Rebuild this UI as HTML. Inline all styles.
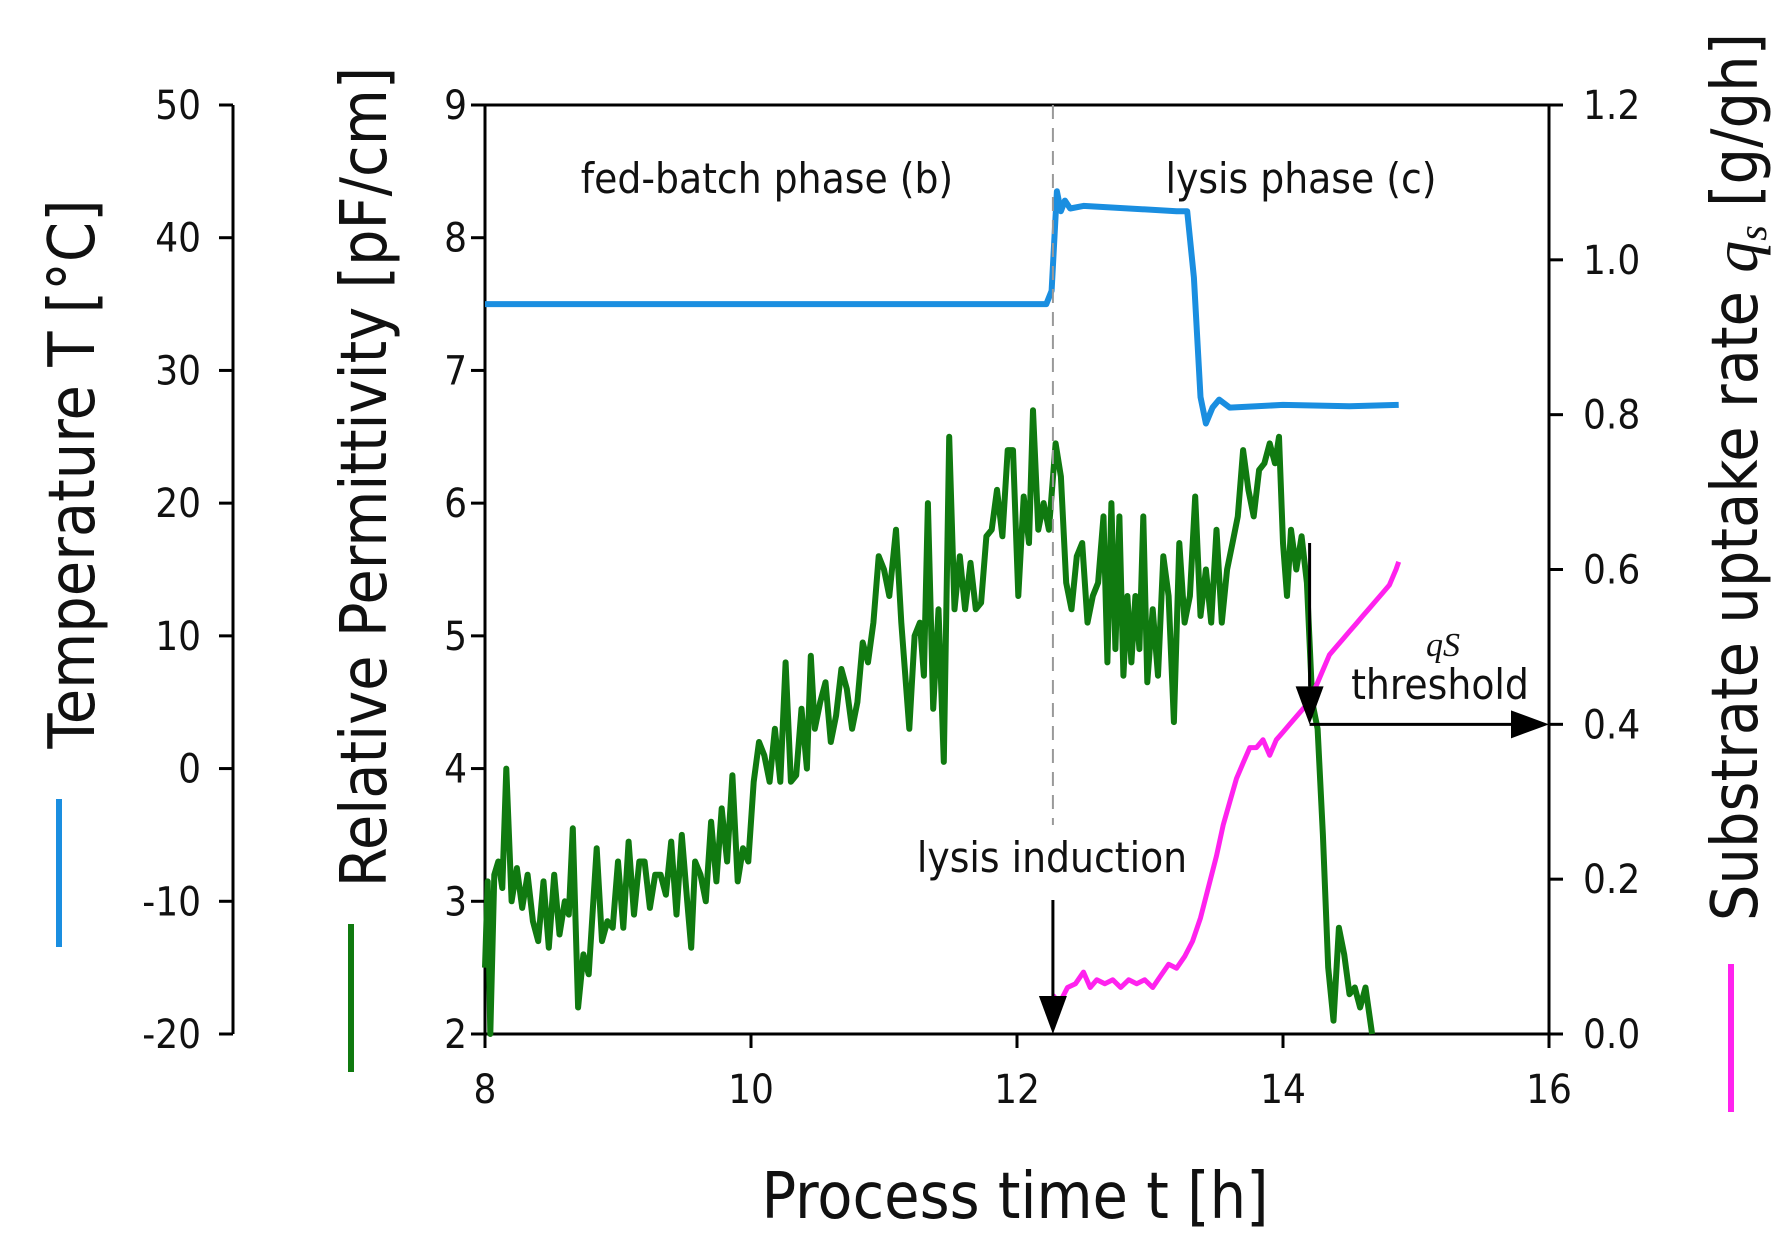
<!DOCTYPE html>
<html><head><meta charset="utf-8"><style>
html,body{margin:0;padding:0;background:#fff;}
svg{display:block;font-family:"DejaVu Sans Condensed","DejaVu Sans","Liberation Sans",sans-serif;font-stretch:condensed;}
</style></head><body>
<svg id="chart" width="1789" height="1254" viewBox="0 0 1789 1254" xmlns="http://www.w3.org/2000/svg">
<g id="axes"></g>
<g id="series"></g>
<g id="annot"></g>
</svg>
<script>
const xTicks = [8, 10, 12, 14, 16];
const permTicks = [2, 3, 4, 5, 6, 7, 8, 9];
const tempTicks = [-20, -10, 0, 10, 20, 30, 40, 50];
const qsTicks = [0.0, 0.2, 0.4, 0.6, 0.8, 1.0, 1.2];

const tempTime = [8, 12.22, 12.26, 12.3, 12.33, 12.36, 12.4, 12.5, 13.2, 13.28, 13.33, 13.38, 13.42, 13.47, 13.52, 13.6, 14.0, 14.5, 14.87];
const tempVals = [35, 35, 36, 43.5, 42, 42.8, 42.2, 42.4, 42, 42, 37, 28, 26, 27.2, 27.8, 27.2, 27.4, 27.3, 27.4];

const permTime = [8.00,8.02,8.04,8.07,8.10,8.13,8.16,8.20,8.24,8.28,8.32,8.36,8.40,8.44,8.48,8.52,8.56,8.60,8.63,8.66,8.70,
8.74,8.78,8.84,8.88,8.92,8.96,9.00,9.04,9.08,9.12,9.16,9.20,9.24,9.28,9.32,9.36,9.40,9.44,9.48,9.52,9.55,9.58,9.62,9.66,9.70,9.74,9.78,9.82,9.86,9.90,9.94,9.98,
10.02,10.06,10.10,10.14,10.18,10.22,10.26,10.30,10.34,10.38,10.42,10.45,10.48,10.52,10.56,10.60,10.64,10.68,10.72,10.76,10.80,10.84,10.88,10.92,10.96,11.00,11.04,11.09,11.13,11.19,11.23,11.27,11.30,11.33,11.37,11.41,11.45,11.49,11.53,11.57,11.61,11.65,11.69,11.73,11.77,11.81,11.85,11.89,11.93,11.97,12.01,12.05,12.09,12.12,12.16,12.20,12.24,12.29,12.33,12.37,12.41,12.45,12.49,12.53,12.57,12.61,12.65,12.68,12.71,12.74,12.77,12.80,12.83,12.86,12.89,12.92,12.95,12.98,13.02,13.06,13.10,13.14,13.18,13.22,13.26,13.30,13.34,13.38,13.42,13.46,13.50,13.54,13.58,13.62,13.66,13.70,13.74,13.78,13.82,13.86,13.90,13.94,13.97,14.00,14.03,14.06,14.10,14.14,14.18,14.22,14.26,14.30,14.34,14.38,14.42,14.46,14.50,14.54,14.58,14.62,14.67];
const permVals = [2.5,3.15,2.0,3.2,3.3,3.1,4.0,3.0,3.25,2.95,3.2,2.85,2.7,3.15,2.65,3.2,2.75,3.0,2.9,3.55,2.2,
2.6,2.45,3.4,2.7,2.85,2.8,3.3,2.8,3.45,2.9,3.3,3.3,2.95,3.2,3.2,3.05,3.45,2.9,3.5,3.0,2.65,3.3,3.2,3.0,3.6,3.15,3.7,3.3,3.95,3.15,3.4,3.3,
3.9,4.2,4.1,3.9,4.3,3.9,4.8,3.9,3.95,4.45,4.0,4.85,4.3,4.5,4.65,4.2,4.4,4.75,4.6,4.3,4.5,4.95,4.8,5.1,5.6,5.5,5.3,5.8,5.1,4.3,5.0,5.1,4.7,6.0,4.45,5.2,4.05,6.5,5.2,5.6,5.2,5.55,5.2,5.25,5.75,5.8,6.1,5.75,6.4,6.4,5.3,6.05,5.7,6.7,5.8,6.0,5.8,6.45,6.2,5.4,5.2,5.6,5.7,5.1,5.3,5.4,5.9,4.8,6.0,4.9,5.9,4.7,5.3,4.8,5.3,4.9,5.9,4.65,5.2,4.7,5.6,5.3,4.35,5.7,5.1,5.3,6.05,5.15,5.5,5.1,5.8,5.1,5.5,5.7,5.9,6.4,6.1,5.9,6.25,6.3,6.45,6.3,6.5,5.7,5.3,5.8,5.5,5.75,5.4,4.5,4.3,3.5,2.5,2.1,2.8,2.6,2.3,2.35,2.2,2.35,2.0];

const qsTime = [12.27,12.32,12.38,12.44,12.5,12.55,12.6,12.66,12.72,12.78,12.84,12.9,12.96,13.02,13.08,13.14,13.2,13.26,13.32,13.38,13.44,13.5,13.55,13.6,13.65,13.7,13.75,13.8,13.85,13.9,13.95,14.0,14.05,14.1,14.15,14.2,14.25,14.3,14.35,14.4,14.45,14.5,14.55,14.6,14.65,14.7,14.75,14.8,14.85,14.87];
const qsVals = [0.05,0.04,0.06,0.065,0.08,0.06,0.07,0.065,0.07,0.06,0.07,0.065,0.07,0.06,0.075,0.09,0.085,0.1,0.12,0.15,0.19,0.23,0.27,0.3,0.33,0.35,0.37,0.37,0.38,0.36,0.38,0.39,0.4,0.41,0.42,0.43,0.45,0.47,0.49,0.5,0.51,0.52,0.53,0.54,0.55,0.56,0.57,0.58,0.6,0.61];

const L=485, R=1549, T=105, B=1034;
const xS = t => L + (t-8)/(16-8)*(R-L);
const pS = p => B - (p-2)/(9-2)*(B-T);
const tS = v => B - (v+20)/70*(B-T);
const qS = v => B - v/1.2*(B-T);
const NS="http://www.w3.org/2000/svg";
function mk(parent, tag, attrs, text){
  const e=document.createElementNS(NS,tag);
  for(const k in attrs) e.setAttribute(k,attrs[k]);
  if(text!==undefined) e.textContent=text;
  parent.appendChild(e); return e;
}
const ax=document.getElementById('axes'), se=document.getElementById('series'), an=document.getElementById('annot');
const FS=40;
let e;
e=mk(ax,'rect',{x:L,y:T,width:R-L,height:B-T,fill:'none',stroke:'#000','stroke-width':3});


xTicks.forEach(v=>{
  e=mk(ax,'line',{x1:xS(v),x2:xS(v),y1:B,y2:B+14,stroke:'#000','stroke-width':3});
  
  
  e=mk(ax,'text',{x:xS(v),y:B+69,'font-size':FS,'text-anchor':'middle',fill:'#111'},String(v));
  
  
});
permTicks.forEach(v=>{
  e=mk(ax,'line',{x1:L-14,x2:L,y1:pS(v),y2:pS(v),stroke:'#000','stroke-width':3});
  
  
  e=mk(ax,'text',{x:L-18,y:pS(v)+14,'font-size':FS,'text-anchor':'end',fill:'#111'},String(v));
  
  
});
const TX=233;
e=mk(ax,'line',{x1:TX,x2:TX,y1:T,y2:B,stroke:'#000','stroke-width':3});


tempTicks.forEach(v=>{
  e=mk(ax,'line',{x1:TX-14,x2:TX,y1:tS(v),y2:tS(v),stroke:'#000','stroke-width':3});
  
  
  e=mk(ax,'text',{x:TX-32,y:tS(v)+14,'font-size':FS,'text-anchor':'end',fill:'#111'},String(v));
  
  
});
qsTicks.forEach(v=>{
  e=mk(ax,'line',{x1:R,x2:R+14,y1:qS(v),y2:qS(v),stroke:'#000','stroke-width':3});
  
  
  e=mk(ax,'text',{x:R+34,y:qS(v)+14,'font-size':FS,'text-anchor':'start',fill:'#111'},v.toFixed(1));
  
  
});
const TF=64;
e=mk(ax,'text',{x:1015,y:1218,'font-size':TF,'text-anchor':'middle',fill:'#111'},'Process time t [h]');


e=mk(ax,'text',{x:0,y:0,'font-size':TF,'text-anchor':'middle',fill:'#111',transform:'translate(94,474) rotate(-90)'},'Temperature T [°C]');


e=mk(ax,'text',{x:0,y:0,'font-size':TF,'text-anchor':'middle',fill:'#111',transform:'translate(386,477) rotate(-90)'},'Relative Permittivity [pF/cm]');


const qt=mk(ax,'text',{x:0,y:0,'font-size':TF,'text-anchor':'middle',fill:'#111',transform:'translate(1757,477) rotate(-90)'});


mk(qt,'tspan',{},'Substrate uptake rate ');
mk(qt,'tspan',{'font-family':'Liberation Serif, serif','font-style':'italic'},'q');
mk(qt,'tspan',{'font-family':'Liberation Serif, serif','font-style':'italic','font-size':40,dy:9},'s');
mk(qt,'tspan',{dy:-9},' [g/gh]');
e=mk(ax,'line',{x1:59,x2:59,y1:799,y2:947,stroke:'#1a8ee0','stroke-width':6});


e=mk(ax,'line',{x1:351,x2:351,y1:924,y2:1072,stroke:'#107a10','stroke-width':6});


e=mk(ax,'line',{x1:1731,x2:1731,y1:964,y2:1112,stroke:'#ff22ee','stroke-width':6});


e=mk(an,'line',{x1:xS(12.27),x2:xS(12.27),y1:T,y2:825,stroke:'#999','stroke-width':2,'stroke-dasharray':'14 9'});


function path(ts,vs,sc){return ts.map((t,i)=>(i?'L':'M')+xS(t).toFixed(1)+','+sc(vs[i]).toFixed(1)).join(' ');}
e=mk(se,'path',{d:path(permTime,permVals,pS),fill:'none',stroke:'#107a10','stroke-width':6,'stroke-linejoin':'round'});


e=mk(se,'path',{d:path(tempTime,tempVals,tS),fill:'none',stroke:'#1a8ee0','stroke-width':6,'stroke-linejoin':'round'});


e=mk(se,'path',{d:path(qsTime,qsVals,qS),fill:'none',stroke:'#ff22ee','stroke-width':5,'stroke-linejoin':'round'});


function arrow(x1,y1,x2,y2,name){
  const g=mk(an,'g',{});
  
  
  const dx=x2-x1, dy=y2-y1, len=Math.hypot(dx,dy), ux=dx/len, uy=dy/len, h=38, w=14;
  mk(g,'line',{x1:x1,y1:y1,x2:x2-ux*h,y2:y2-uy*h,stroke:'#000','stroke-width':3});
  const bx=x2-ux*h, by=y2-uy*h;
  mk(g,'polygon',{points:`${x2},${y2} ${bx-uy*w},${by+ux*w} ${bx+uy*w},${by-ux*w}`,fill:'#000'});
}
arrow(xS(12.27),900,xS(12.27),B,'induction-arrow');
arrow(xS(14.2),pS(5.7),xS(14.2),qS(0.4),'threshold-down-arrow');
arrow(xS(14.2),qS(0.4),R,qS(0.4),'threshold-right-arrow');
const AF=42;
e=mk(an,'text',{x:767,y:193,'font-size':AF,'text-anchor':'middle',fill:'#111'},'fed-batch phase (b)');


e=mk(an,'text',{x:1301,y:193,'font-size':AF,'text-anchor':'middle',fill:'#111'},'lysis phase (c)');


e=mk(an,'text',{x:1052,y:872,'font-size':AF,'text-anchor':'middle',fill:'#111'},'lysis induction');


e=mk(an,'text',{x:1443,y:656,'font-size':34,'text-anchor':'middle',fill:'#111','font-family':'Liberation Serif, serif','font-style':'italic'},'qS');


e=mk(an,'text',{x:1440,y:699,'font-size':AF,'text-anchor':'middle',fill:'#111'},'threshold');


</script>
</body></html>
